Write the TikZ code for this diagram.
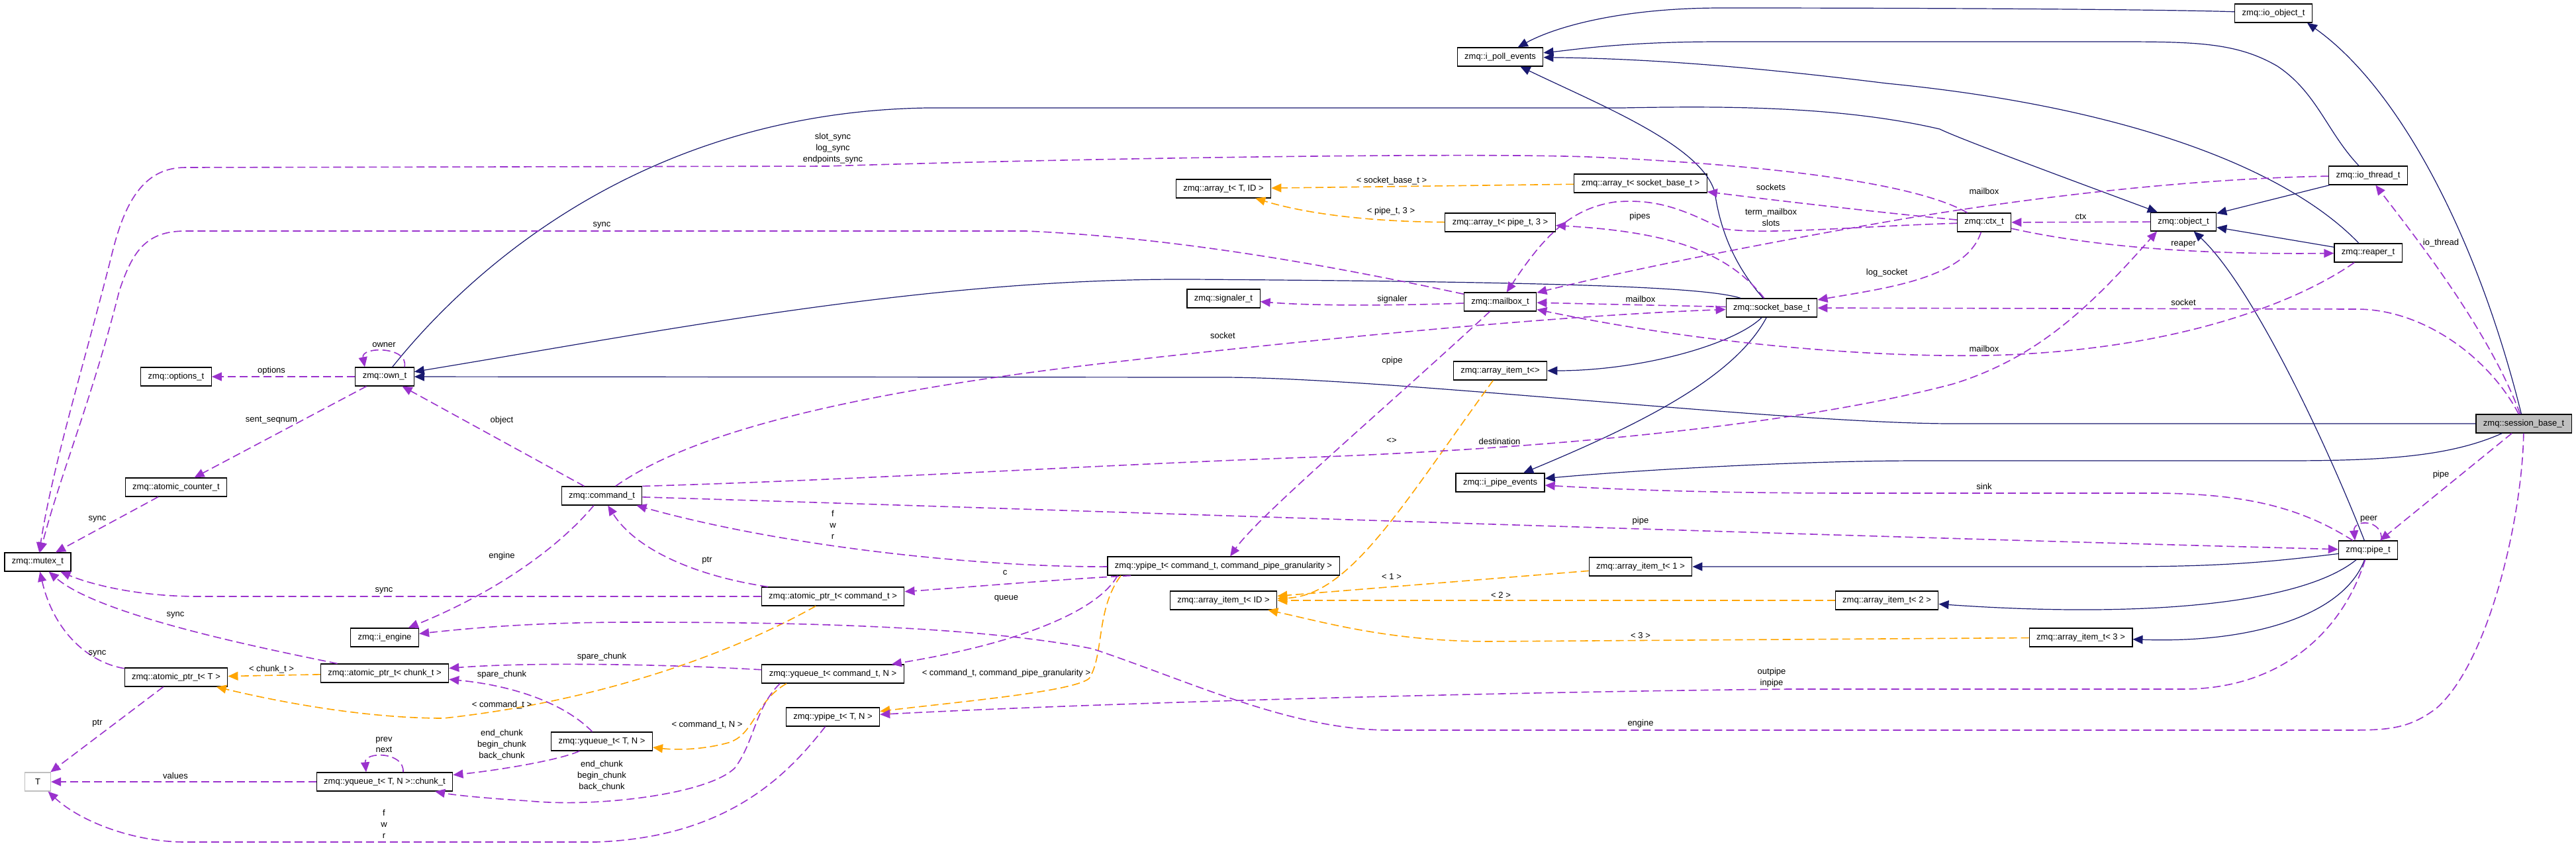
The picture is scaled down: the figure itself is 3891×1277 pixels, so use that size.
\documentclass[tikz,border=0pt]{standalone}
\usepackage{fontspec}
\setmainfont{Liberation Sans}
\usetikzlibrary{arrows.meta}
\definecolor{zmqNavy}{HTML}{191970}
\definecolor{zmqOrchid}{HTML}{9A32CD}
\definecolor{zmqOrange}{HTML}{FFA500}
\definecolor{zmqGrey}{HTML}{BFBFBF}

\begin{document}
\begin{tikzpicture}[x=0.1mm, y=-0.1mm, font=\fontsize{3.7}{4.8}\selectfont,
        cls/.style={draw=black, line width=0.12mm, fill=white, minimum height=2.8mm, inner xsep=1.1mm, inner ysep=0pt},
        sel/.style={cls, fill=zmqGrey},
        ext/.style={cls, draw=zmqGrey, minimum width=3.9mm},
        inh/.style={-{Triangle[length=1.5mm, width=1.3mm]}, zmqNavy, line width=0.12mm},
        use/.style={-{Triangle[length=1.5mm, width=1.3mm]}, zmqOrchid, line width=0.16mm, dash pattern=on 1.2mm off 0.6mm},
        tpl/.style={-{Triangle[length=1.5mm, width=1.3mm]}, zmqOrange, line width=0.16mm, dash pattern=on 1.2mm off 0.6mm},
        lbl/.style={align=center, inner sep=0pt, text=black}]
        \useasboundingbox[fill=white] (0,0) rectangle (3891,1277);
        % classes
        \node[cls] (ioobj) at (3434,20) {zmq::io\_object\_t};
        \node[cls] (poll) at (2266,86) {zmq::i\_poll\_events};
        \node[cls] (arrTID) at (1848,285) {zmq::array\_t< T, ID >};
        \node[cls] (arrSock) at (2478,277) {zmq::array\_t< socket\_base\_t >};
        \node[cls] (arrPipe) at (2266,336) {zmq::array\_t< pipe\_t, 3 >};
        \node[cls] (ctx) at (2997,336) {zmq::ctx\_t};
        \node[cls] (obj) at (3298,335) {zmq::object\_t};
        \node[cls] (iothr) at (3577,265) {zmq::io\_thread\_t};
        \node[cls] (reap) at (3577,382) {zmq::reaper\_t};
        \node[cls] (sig) at (1848,451) {zmq::signaler\_t};
        \node[cls] (mbox) at (2266,456) {zmq::mailbox\_t};
        \node[cls] (sock) at (2676,465) {zmq::socket\_base\_t};
        \node[cls] (opts) at (266,569) {zmq::options\_t};
        \node[cls] (own) at (581,569) {zmq::own\_t};
        \node[cls] (itm) at (2266,560) {zmq::array\_item\_t<>};
        \node[sel] (sess) at (3812,640) {zmq::session\_base\_t};
        \node[cls] (cnt) at (266,736) {zmq::atomic\_counter\_t};
        \node[cls] (cmd) at (909,749) {zmq::command\_t};
        \node[cls] (pev) at (2266,729) {zmq::i\_pipe\_events};
        \node[cls] (mtx) at (57,849) {zmq::mutex\_t};
        \node[cls] (pipe) at (3577,831) {zmq::pipe\_t};
        \node[cls] (ypCmd) at (1848,855) {zmq::ypipe\_t< command\_t, command\_pipe\_granularity >};
        \node[cls] (itm1) at (2478,856) {zmq::array\_item\_t< 1 >};
        \node[cls] (apCmd) at (1258,901) {zmq::atomic\_ptr\_t< command\_t >};
        \node[cls] (itmID) at (1848,907) {zmq::array\_item\_t< ID >};
        \node[cls] (itm2) at (2850,907) {zmq::array\_item\_t< 2 >};
        \node[cls] (eng) at (581,963) {zmq::i\_engine};
        \node[cls] (itm3) at (3143,963) {zmq::array\_item\_t< 3 >};
        \node[cls] (apT) at (266,1023) {zmq::atomic\_ptr\_t< T >};
        \node[cls] (apChunk) at (581,1017) {zmq::atomic\_ptr\_t< chunk\_t >};
        \node[cls] (yqCmd) at (1258,1018) {zmq::yqueue\_t< command\_t, N >};
        \node[cls] (ypTN) at (1258,1083) {zmq::ypipe\_t< T, N >};
        \node[cls] (yqTN) at (909,1120) {zmq::yqueue\_t< T, N >};
        \node[ext] (T) at (57,1181) {T};
        \node[cls] (chunk) at (581,1181) {zmq::yqueue\_t< T, N >::chunk\_t};
        % inheritance
        \draw[inh] (sess) -- (2950,640) .. controls (2700,640) and (2100,571) .. (1850,570) -- (own);
        \draw[inh] (sock) .. controls (2580,435) and (2400,426) .. (1800,422) .. controls (1400,420) and (1000,500) .. (own);
        \draw[inh] (own) .. controls (700,420) and (960,170) .. (1400,163) -- (2450,163) .. controls (2600,160) and (2780,160) .. (2930,195) .. controls (2960,210) and (3150,280) .. (obj);
        \draw[inh] (ioobj) .. controls (3300,15) and (3000,12) .. (2600,12) .. controls (2450,12) and (2350,40) .. (poll);
        \draw[inh] (iothr) .. controls (3515,200) and (3500,140) .. (3440,100) .. controls (3380,65) and (3320,63) .. (3200,63) -- (2600,63) .. controls (2450,63) and (2380,75) .. (poll);
        \draw[inh] (reap) .. controls (3450,250) and (3200,160) .. (2850,126) .. controls (2600,95) and (2450,88) .. (poll);
        \draw[inh] (sock) .. controls (2610,390) and (2596,330) .. (2590,290) .. controls (2570,220) and (2420,160) .. (poll);
        \draw[inh] (sess) .. controls (3740,350) and (3620,130) .. ([xshift=-0.8mm]ioobj.south east);
        \draw[inh] (iothr) -- (obj);
        \draw[inh] (reap) -- (obj);
        \draw[inh] (pipe) .. controls (3510,660) and (3400,430) .. (obj);
        \draw[inh] (sock) .. controls (2620,520) and (2480,560) .. (itm);
        \draw[inh] (sock) .. controls (2620,570) and (2480,640) .. (pev);
        \draw[inh] (pipe) .. controls (3420,850) and (3350,856) .. (3200,856) -- (itm1);
        \draw[inh] (pipe) .. controls (3480,910) and (3250,935) .. (itm2);
        \draw[inh] (pipe) .. controls (3540,930) and (3400,972) .. (itm3);
        \draw[inh] (sess) .. controls (3700,690) and (3600,696) .. (3450,696) -- (2900,696) .. controls (2700,696) and (2450,712) .. (pev);
        % templates
        \draw[tpl] (arrSock) -- (arrTID) node[lbl] at (2102,273) {< socket\_base\_t >};
        \draw[tpl] (arrPipe) .. controls (2080,335) and (1980,325) .. (arrTID) node[lbl] at (2101,319) {< pipe\_t, 3 >};
        \draw[tpl] (itm) .. controls (2120,760) and (2040,900) .. (itmID) node[lbl] at (2102,666) {<>};
        \draw[tpl] (itm1) -- (itmID) node[lbl] at (2102,871) {< 1 >};
        \draw[tpl] (itm2) -- (itmID) node[lbl] at (2267,899) {< 2 >};
        \draw[tpl] (itm3) -- (2250,969) .. controls (2100,969) and (2000,940) .. (itmID) node[lbl] at (2478,960) {< 3 >};
        \draw[tpl] (apChunk) -- (apT) node[lbl] at (410,1011) {< chunk\_t >};
        \draw[tpl] (apCmd) .. controls (1100,990) and (900,1060) .. (670,1085) .. controls (550,1085) and (420,1060) .. (apT) node[lbl] at (758,1065) {< command\_t >};
        \draw[tpl] ([xshift=-7mm]yqCmd.south) .. controls (1140,1060) and (1140,1110) .. (1100,1122) .. controls (1060,1133) and (1020,1133) .. (yqTN) node[lbl] at (1068,1095) {< command\_t, N >};
        \draw[tpl] ([xshift=-15.5mm]ypCmd.south) .. controls (1655,920) and (1668,990) .. (1645,1025) .. controls (1620,1045) and (1450,1060) .. (ypTN) node[lbl] at (1520,1017) {< command\_t, command\_pipe\_granularity >};
        % usage
        \draw[use] (ctx) .. controls (2900,280) and (2700,250) .. (2400,237) .. controls (2200,230) and (1600,240) .. (1250,251) -- (280,253) .. controls (220,253) and (190,300) .. (170,380) .. controls (130,540) and (80,700) .. (mtx) node[lbl] at (1258,224) {slot\_sync\\log\_sync\\endpoints\_sync};
        \draw[use] (mbox) .. controls (2050,410) and (1800,360) .. (1550,349) -- (280,349) .. controls (220,349) and (200,380) .. (180,440) .. controls (140,600) and (90,720) .. (mtx) node[lbl] at (909,340) {sync};
        \draw[use] (mbox) .. controls (2100,462) and (1980,462) .. (sig) node[lbl] at (2103,452) {signaler};
        \draw[use] (sock) -- (mbox) node[lbl] at (2478,452) {mailbox};
        \draw[use] (sess) .. controls (3760,540) and (3660,467) .. (3560,467) -- (sock) node[lbl] at (3298,457) {socket};
        \draw[use] (reap) .. controls (3480,450) and (3300,530) .. (3000,537) .. controls (2800,540) and (2550,515) .. (mbox) node[lbl] at (2997,527) {mailbox};
        \draw[use] (iothr) .. controls (3300,270) and (3050,300) .. (2850,335) .. controls (2650,370) and (2450,410) .. (mbox) node[lbl] at (2997,289) {mailbox};
        \draw[use] (ctx) .. controls (2850,322) and (2700,305) .. (arrSock) node[lbl] at (2675,283) {sockets};
        \draw[use] (sock) .. controls (2610,380) and (2520,350) .. (arrPipe) node[lbl] at (2477,327) {pipes};
        \draw[use] (ctx) .. controls (2800,342) and (2660,356) .. (2600,345) .. controls (2540,315) and (2500,300) .. (2440,305) .. controls (2370,315) and (2330,360) .. (mbox) node[lbl] at (2675,328) {term\_mailbox\\slots};
        \draw[use] (ctx) .. controls (2970,420) and (2850,435) .. (sock) node[lbl] at (2850,412) {log\_socket};
        \draw[use] (obj) -- (ctx) node[lbl] at (3143,327) {ctx};
        \draw[use] (ctx) .. controls (3150,370) and (3300,385) .. (reap) node[lbl] at (3298,369) {reaper};
        \draw[use] (sess) .. controls (3760,500) and (3650,360) .. (iothr) node[lbl] at (3687,367) {io\_thread};
        \draw[use] (cmd.north east) .. controls (1300,725) and (1700,700) .. (2000,690) .. controls (2500,670) and (2800,620) .. (2950,580) .. controls (3080,540) and (3160,460) .. ([xshift=-4mm]obj.south) node[lbl] at (2265,667) {destination};
        \draw[use] (cmd) -- (own) node[lbl] at (758,635) {object};
        \draw[use] ([xshift=3mm]own.north) .. controls (618,523) and (545,523) .. ([xshift=-3mm]own.north) node[lbl] at (580,521) {owner};
        \draw[use] (own) -- (opts) node[lbl] at (410,560) {options};
        \draw[use] (own) -- (cnt) node[lbl] at (410,635) {sent\_seqnum};
        \draw[use] (cnt) -- (mtx) node[lbl] at (147,784) {sync};
        \draw[use] (cmd) .. controls (1050,650) and (1300,590) .. (1700,545) .. controls (2100,500) and (2400,475) .. (sock) node[lbl] at (1847,507) {socket};
        \draw[use] (cmd) .. controls (1600,770) and (2600,805) .. (pipe) node[lbl] at (2478,787) {pipe};
        \draw[use] (cmd) .. controls (850,820) and (760,890) .. (eng) node[lbl] at (758,840) {engine};
        \draw[use] (apCmd) -- (300,901) .. controls (200,901) and (130,880) .. (mtx) node[lbl] at (580,892) {sync};
        \draw[use] (apChunk) .. controls (400,980) and (150,930) .. (mtx) node[lbl] at (265,929) {sync};
        \draw[use] (apT) .. controls (130,1000) and (80,950) .. (mtx) node[lbl] at (147,987) {sync};
        \draw[use] (apT) -- (T) node[lbl] at (147,1093) {ptr};
        \draw[use] (chunk) -- (T) node[lbl] at (265,1172) {values};
        \draw[use] ([xshift=2.8mm]chunk.north) .. controls (611,1135) and (550,1135) .. ([xshift=-2.8mm]chunk.north) node[lbl] at (580,1125) {prev\\next};
        \draw[use] (yqTN) .. controls (840,1150) and (740,1165) .. (chunk) node[lbl] at (758,1125) {end\_chunk\\begin\_chunk\\back\_chunk};
        \draw[use] ([xshift=-8mm]yqCmd.south) .. controls (1140,1070) and (1140,1120) .. (1110,1160) .. controls (1070,1200) and (900,1220) .. (800,1210) .. controls (720,1205) and (680,1200) .. (chunk) node[lbl] at (909,1172) {end\_chunk\\begin\_chunk\\back\_chunk};
        \draw[use] (yqTN) .. controls (850,1060) and (770,1035) .. (apChunk) node[lbl] at (758,1019) {spare\_chunk};
        \draw[use] (yqCmd) .. controls (1000,1003) and (800,1000) .. (apChunk) node[lbl] at (909,992) {spare\_chunk};
        \draw[use] (ypTN) .. controls (1190,1170) and (1100,1265) .. (900,1272) -- (280,1272) .. controls (200,1272) and (120,1240) .. (T) node[lbl] at (580,1245) {f\\w\\r};
        \draw[use] (ypCmd) .. controls (1500,857) and (1200,830) .. (cmd) node[lbl] at (1258,793) {f\\w\\r};
        \draw[use] (apCmd) .. controls (1050,870) and (960,830) .. (cmd) node[lbl] at (1068,847) {ptr};
        \draw[use] ([xshift=-14mm]ypCmd.south) .. controls (1600,875) and (1450,888) .. (apCmd) node[lbl] at (1518,865) {c};
        \draw[use] ([xshift=-16mm]ypCmd.south) .. controls (1660,920) and (1550,970) .. (yqCmd) node[lbl] at (1520,904) {queue};
        \draw[use] (mbox) .. controls (2100,610) and (1900,780) .. (ypCmd) node[lbl] at (2103,545) {cpipe};
        \draw[use] (pipe) .. controls (3540,950) and (3450,1040) .. (3300,1041) -- (2700,1041) .. controls (2300,1045) and (1700,1060) .. (ypTN) node[lbl] at (2676,1024) {outpipe\\inpipe};
        \draw[use] (sess) .. controls (3810,780) and (3760,1000) .. (3680,1070) .. controls (3640,1100) and (3610,1103) .. (3550,1103) -- (2100,1103) .. controls (1950,1103) and (1800,1030) .. (1650,980) .. controls (1450,940) and (1100,940) .. (950,940) .. controls (800,940) and (700,950) .. (eng) node[lbl] at (2478,1093) {engine};
        \draw[use] (sess) -- (pipe) node[lbl] at (3687,717) {pipe};
        \draw[use] (pipe) .. controls (3480,770) and (3400,745) .. (3250,745) -- (2800,745) .. controls (2600,745) and (2450,740) .. (pev) node[lbl] at (2997,735) {sink};
        \draw[use] ([xshift=2mm]pipe.north) .. controls (3600,784) and (3554,784) .. ([xshift=-2mm]pipe.north) node[lbl] at (3578,784) {peer};
      \end{tikzpicture}
\end{document}
